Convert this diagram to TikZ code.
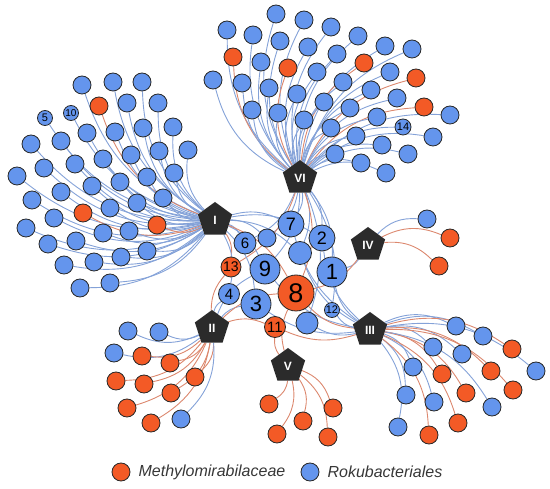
\documentclass[tikz,border=0pt]{standalone}
\usepackage{fontspec}
\setmainfont{Liberation Sans}
\usepackage{xcolor}
\usepackage{tikz}
\usetikzlibrary{positioning, shapes.geometric, backgrounds}

\definecolor{rokublue}{RGB}{100,149,237}
\definecolor{methyorange}{RGB}{243,90,38}
\definecolor{hubgray}{RGB}{43,43,43}
\definecolor{blueline}{RGB}{132,162,216}
\definecolor{orangeline}{RGB}{220,136,110}
\definecolor{rim}{RGB}{40,40,40}
\definecolor{legendtext}{RGB}{55,55,55}

\begin{document}
\begin{tikzpicture}[x=1pt, y=-1pt,
    leaf/.style = {draw=rim, circle, line width=0.8pt, minimum size=18pt, inner sep=0pt},
    rk/.style = {fill=rokublue}, mb/.style = {fill=methyorange},
    line rk/.style = {draw=blueline, line width=0.9pt},
    line mb/.style = {draw=orangeline, line width=0.9pt},
    hub/.style = {regular polygon, regular polygon sides=5, fill=hubgray, text=white,
        font=\bfseries\fontsize{12}{12}\selectfont, minimum size=36pt, inner sep=0pt},
    core/.style = {leaf, minimum size=#1}]
    \useasboundingbox (0,0) rectangle (550,489);

    % 枢纽
    \node[hub] (hI) at (215,220) {I};
    \node[hub] (hII) at (212,328) {II};
    \node[hub] (hIII) at (370,330) {III};
    \node[hub] (hIV) at (368,245) {IV};
    \node[hub] (hV) at (288,366) {V};
    \node[hub] (hVI) at (300,178) {VI};

    % 中心节点
    \node[core=26pt, rk, font=\fontsize{18}{18}\selectfont] (c7) at (291,224) {7};
    \node[core=26pt, rk, font=\fontsize{18}{18}\selectfont] (c2) at (322,238) {2};
    \node[core=22pt, rk, font=\fontsize{15}{15}\selectfont] (c6) at (245,243) {6};
    \node[core=18pt, rk] (ca) at (267,238) {};
    \node[core=23pt, rk] (cb) at (300,253) {};
    \node[core=20pt, mb, font=\fontsize{14}{14}\selectfont] (c13) at (231,267) {13};
    \node[core=30pt, rk, font=\fontsize{22}{22}\selectfont] (c9) at (265,269) {9};
    \node[core=30pt, rk, font=\fontsize{22}{22}\selectfont] (c1) at (332,272) {1};
    \node[core=21pt, rk, font=\fontsize{15}{15}\selectfont] (c4) at (229,294) {4};
    \node[core=30pt, rk, font=\fontsize{22}{22}\selectfont] (c3) at (256,304) {3};
    \node[core=36pt, mb, font=\fontsize{27}{27}\selectfont] (c8) at (296,293) {8};
    \node[core=15pt, rk, font=\fontsize{11}{11}\selectfont] (c12) at (332,310) {12};
    \node[core=21pt, mb, font=\fontsize{15}{15}\selectfont] (c11) at (275,327) {11};
    \node[core=22pt, rk] (cc) at (307,323) {};

    % 中心的边
    \begin{pgfonlayer}{background}
    \foreach \h/\c/\col in {hI/c7/rk, hVI/c7/rk, hIII/c7/rk, hI/c2/rk, hVI/c2/rk, hIII/c2/rk,
        hI/c6/rk, hVI/c6/rk, hI/ca/rk, hVI/ca/rk, hI/cb/rk, hVI/cb/rk, hIII/cb/rk,
        hI/c13/mb, hVI/c13/mb, hII/c13/mb, hI/c9/rk, hVI/c9/rk, hII/c9/rk, hIII/c9/rk,
        hIV/c1/rk, hVI/c1/rk, hIII/c1/rk, hII/c4/rk, hI/c4/rk, hII/c3/rk, hIII/c3/rk, hI/c3/rk,
        hI/c8/mb, hII/c8/mb, hIII/c8/mb, hIV/c8/mb, hV/c8/mb, hVI/c8/mb,
        hIII/c12/rk, hVI/c12/rk, hII/c11/mb, hV/c11/mb, hIII/c11/mb, hIII/cc/rk, hVI/cc/rk}
        \draw[line \col] (\h) to[bend left=20] (\c);
    \end{pgfonlayer}

    % 叶节点
    \foreach \hb/\list in {
        hI/{82/85/rk, 113/82/rk, 142/82/rk, 99/106/mb, 127/103/rk, 158/103/rk, 87/133/rk,
            115/132/rk, 143/128/rk, 173/127/rk, 31/144/rk, 61/141/rk, 131/155/rk, 159/151/rk,
            188/150/rk, 103/159/rk, 75/164/rk, 44/168/rk, 17/176/rk, 147/177/rk, 174/173/rk,
            120/182/rk, 92/186/rk, 61/192/rk, 32/200/rk, 163/198/rk, 137/203/rk, 110/208/rk,
            83/213/mb, 54/218/rk, 26/228/rk, 157/225/mb, 129/231/rk, 103/233/rk, 76/241/rk,
            48/244/rk, 147/251/rk, 121/257/rk, 94/262/rk, 64/265/rk, 110/283/rk, 80/288/rk},
        hVI/{276/14/rk, 304/20/rk, 227/30/rk, 253/35/rk, 331/27/rk, 280/41/rk, 358/36/rk,
            308/47/rk, 385/46/rk, 412/49/rk, 233/57/mb, 261/62/rk, 288/68/mb, 337/54/rk,
            364/63/mb, 213/80/rk, 242/83/rk, 269/88/rk, 317/72/rk, 390/72/rk, 416/78/mb,
            297/94/rk, 343/82/rk, 371/90/rk, 397/98/rk, 424/107/mb, 252/110/rk, 278/113/rk,
            324/102/rk, 350/108/rk, 304/120/rk, 377/117/rk, 331/128/rk, 356/136/rk, 433/137/rk,
            382/145/rk, 335/154/rk, 361/163/rk, 408/154/rk, 386/173/rk, 450/115/rk},
        hII/{128/331/rk, 159/332/rk, 114/353/rk, 142/356/mb, 170/363/mb, 116/381/mb,
            144/384/mb, 195/377/mb, 171/393/mb, 127/408/mb, 151/423/mb, 181/419/rk},
        hV/{269/404/mb, 333/408/mb, 303/421/mb, 277/434/mb, 328/437/mb},
        hIV/{427/219/rk, 450/238/mb, 439/266/mb},
        hIII/{456/326/rk, 483/336/rk, 433/347/rk, 462/354/rk, 512/349/mb, 491/371/mb,
            536/371/rk, 413/367/rk, 442/374/mb, 466/393/mb, 513/390/mb, 406/395/rk,
            434/402/rk, 492/407/rk, 458/423/mb, 398/427/rk, 429/435/mb}}
    {
        \foreach \x/\y/\col [count=\i] in \list {
            \node[leaf, \col] (\hb-\i) at (\x,\y) {};
            \begin{pgfonlayer}{background}
                \draw[line \col] (\hb) to[bend left=25] (\hb-\i);
            \end{pgfonlayer}
        }
    }

    % 带编号的叶节点
    \node[core=15pt, rk, font=\fontsize{11}{11}\selectfont] (n5) at (45,118) {5};
    \node[core=15pt, rk, font=\fontsize{10}{10}\selectfont] (n10) at (71,113) {10};
    \node[core=16pt, rk, font=\fontsize{11}{11}\selectfont] (n14) at (403,127) {14};
    \begin{pgfonlayer}{background}
        \draw[line rk] (hI) to[bend left=25] (n5);
        \draw[line rk] (hI) to[bend left=25] (n10);
        \draw[line rk] (hVI) to[bend left=25] (n14);
    \end{pgfonlayer}

    % 图例
    \node[leaf, mb] (lm) at (121,472) {};
    \node[right=8pt of lm, inner sep=0pt, text=legendtext, font=\itshape\fontsize{16}{16}\selectfont] (tm) {Methylomirabilaceae};
    \node[leaf, rk] (lr) at (310,472) {};
    \node[right=8pt of lr, inner sep=0pt, text=legendtext, font=\itshape\fontsize{16}{16}\selectfont] (tr) {Rokubacteriales};
\end{tikzpicture}
\end{document}
